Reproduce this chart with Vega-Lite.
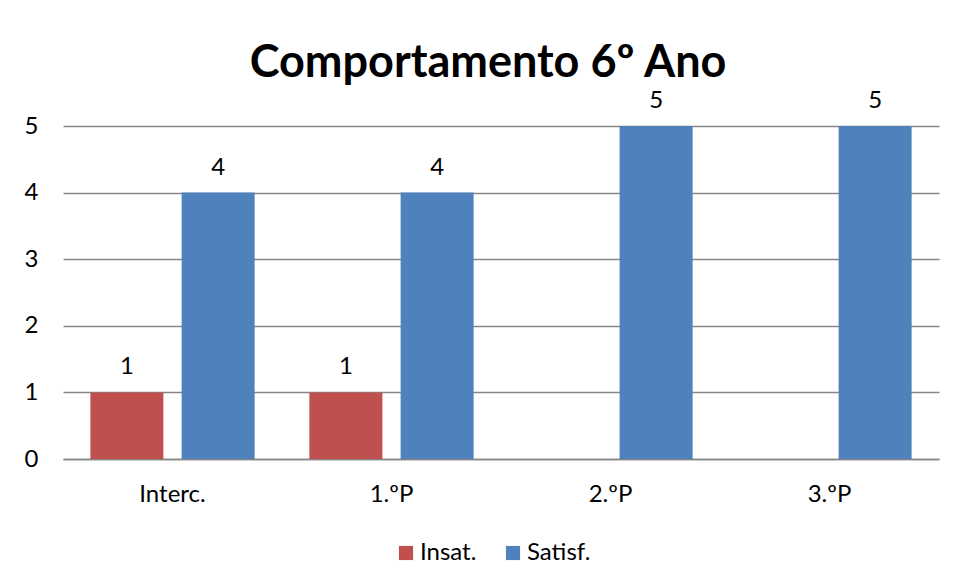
{
  "$schema": "https://vega.github.io/schema/vega-lite/v6.json",
  "autosize": "none",
  "width": 876,
  "height": 333,
  "padding": {"left": 63, "top": 126, "right": 16, "bottom": 122},
  "background": "white",
  "title": {
    "text": "Comportamento 6º Ano",
    "font": "Lato",
    "fontSize": 45,
    "fontWeight": "bold",
    "color": "#000000",
    "anchor": "middle",
    "frame": "group",
    "baseline": "alphabetic",
    "offset": -33,
    "dx": -13
  },
  "data": {
    "values": [
      {"periodo": "Interc.", "serie": "Insat.", "valor": 1},
      {"periodo": "Interc.", "serie": "Satisf.", "valor": 4},
      {"periodo": "1.ºP", "serie": "Insat.", "valor": 1},
      {"periodo": "1.ºP", "serie": "Satisf.", "valor": 4},
      {"periodo": "2.ºP", "serie": "Satisf.", "valor": 5},
      {"periodo": "3.ºP", "serie": "Satisf.", "valor": 5}
    ]
  },
  "encoding": {
    "x": {
      "field": "periodo",
      "type": "nominal",
      "sort": ["Interc.", "1.ºP", "2.ºP", "3.ºP"],
      "scale": {"domain": ["Interc.", "1.ºP", "2.ºP", "3.ºP"], "paddingInner": 0, "paddingOuter": 0},
      "axis": {
        "title": null,
        "labelAngle": 0,
        "labelFont": "Lato",
        "labelFontSize": 24,
        "labelColor": "#000000",
        "labelPadding": 23,
        "ticks": false,
        "domain": true,
        "domainColor": "#868686",
        "domainWidth": 1.5,
        "grid": false
      }
    },
    "xOffset": {
      "field": "serie",
      "type": "nominal",
      "scale": {"domain": ["Insat.", "Satisf."], "paddingInner": 0.2, "paddingOuter": 0.3}
    },
    "y": {
      "field": "valor",
      "type": "quantitative",
      "scale": {"domain": [0, 5], "nice": false},
      "axis": {
        "title": null,
        "values": [0, 1, 2, 3, 4, 5],
        "labelFont": "Lato",
        "labelFontSize": 24,
        "labelColor": "#000000",
        "labelPadding": 32,
        "labelAlign": "center",
        "ticks": false,
        "domain": false,
        "grid": true,
        "gridColor": "#868686",
        "gridWidth": 1.5
      }
    }
  },
  "layer": [
    {
      "mark": {"type": "bar"},
      "encoding": {
        "color": {
          "field": "serie",
          "type": "nominal",
          "scale": {"domain": ["Insat.", "Satisf."], "range": ["#C0504D", "#4F81BD"]},
          "legend": {
            "title": null,
            "orient": "none",
            "direction": "horizontal",
            "legendX": 331,
            "legendY": 415,
            "symbolType": "square",
            "symbolSize": 200,
            "symbolStrokeWidth": 0,
            "labelFont": "Lato",
            "labelFontSize": 24,
            "labelColor": "#000000",
            "labelOffset": 2,
            "columnPadding": 24
          }
        }
      }
    },
    {
      "mark": {"type": "text", "baseline": "middle", "dy": -25, "font": "Lato", "fontSize": 24, "color": "#000000"},
      "encoding": {
        "text": {"field": "valor", "type": "quantitative"}
      }
    }
  ],
  "config": {
    "view": {"stroke": null}
  }
}
